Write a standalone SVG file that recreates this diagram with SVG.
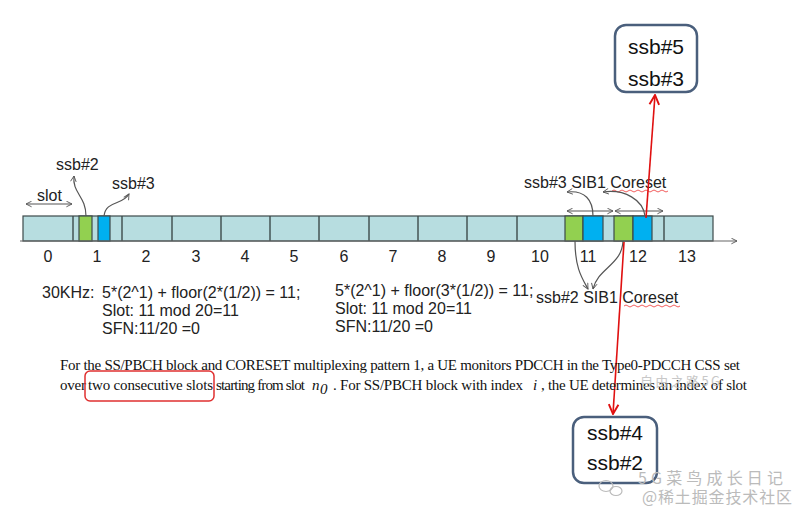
<svg xmlns="http://www.w3.org/2000/svg" width="807" height="520" viewBox="0 0 807 520">
<defs>
<marker id="ah" viewBox="0 0 10 10" refX="9" refY="5" markerWidth="7" markerHeight="7" orient="auto-start-reverse" markerUnits="userSpaceOnUse">
<path d="M1,1 L9,5 L1,9" fill="none" stroke="#555" stroke-width="1.3"/>
</marker>
<marker id="rh" viewBox="0 0 10 10" refX="9" refY="5" markerWidth="12" markerHeight="12" orient="auto" markerUnits="userSpaceOnUse">
<path d="M1,1 L9,5 L1,9" fill="none" stroke="#e01010" stroke-width="1.6"/>
</marker>
<style>
.lbl{font-family:"Liberation Sans",Arial,sans-serif;font-size:16px;fill:#222}
.num{font-family:"Liberation Sans",Arial,sans-serif;font-size:16px;fill:#222;text-anchor:middle}
.par{font-family:"Liberation Serif","Times New Roman",serif;font-size:15px;fill:#111}
.box{fill:#fff;stroke:#4a5f7c;stroke-width:2.5}
.bt{font-family:"Liberation Sans",Arial,sans-serif;font-size:21px;fill:#111;text-anchor:middle}
.cell{fill:#b7dde0;stroke:#3c4a4a;stroke-width:1.2}
.g{fill:#92d050;stroke:#3c4a4a;stroke-width:1.2}
.b{fill:#00b0f0;stroke:#3c4a4a;stroke-width:1.2}
.cur{fill:none;stroke:#555;stroke-width:1.2}
.red{fill:none;stroke:#e01010;stroke-width:1.6}
.wm{font-family:"Noto Sans CJK SC","Liberation Sans",sans-serif;fill:#bbb}
</style>
</defs>

<g id="timeline">
<rect class="cell" x="23" y="216" width="690" height="25"/>
<g stroke="#3c4a4a" stroke-width="1.4">
<line x1="73" y1="216" x2="73" y2="241"/>
<line x1="122" y1="216" x2="122" y2="241"/>
<line x1="172" y1="216" x2="172" y2="241"/>
<line x1="221" y1="216" x2="221" y2="241"/>
<line x1="270" y1="216" x2="270" y2="241"/>
<line x1="319" y1="216" x2="319" y2="241"/>
<line x1="369" y1="216" x2="369" y2="241"/>
<line x1="418" y1="216" x2="418" y2="241"/>
<line x1="467" y1="216" x2="467" y2="241"/>
<line x1="517" y1="216" x2="517" y2="241"/>
<line x1="664" y1="216" x2="664" y2="241"/>
</g>
<rect class="g" x="79" y="216" width="13" height="25"/>
<rect class="b" x="98" y="216" width="12" height="25"/>
<rect class="g" x="565" y="216" width="18" height="25"/>
<rect class="b" x="583" y="216" width="20" height="25"/>
<rect class="g" x="614" y="216" width="19" height="25"/>
<rect class="b" x="633" y="216" width="19" height="25"/>
<line x1="20" y1="241" x2="737" y2="241" stroke="#666" stroke-width="1.2" marker-end="url(#ah)"/>
</g>

<g id="slot-numbers">
<text class="num" x="48" y="262">0</text>
<text class="num" x="97" y="262">1</text>
<text class="num" x="146" y="262">2</text>
<text class="num" x="196" y="262">3</text>
<text class="num" x="245" y="262">4</text>
<text class="num" x="294" y="262">5</text>
<text class="num" x="344" y="262">6</text>
<text class="num" x="393" y="262">7</text>
<text class="num" x="442" y="262">8</text>
<text class="num" x="491" y="262">9</text>
<text class="num" x="540" y="262">10</text>
<text class="num" x="588" y="262">11</text>
<text class="num" x="638" y="262">12</text>
<text class="num" x="687" y="262">13</text>
</g>

<g id="labels">
<text class="lbl" x="56" y="170">ssb#2</text>
<text class="lbl" x="112" y="189">ssb#3</text>
<text class="lbl" x="37" y="201">slot</text>
<text class="lbl" x="524" y="188">ssb#3 SIB1 Coreset</text>
<text class="lbl" x="536" y="303">ssb#2 SIB1 Coreset</text>
<path d="M612,191 q2,-2 4,0 t4,0 t4,0 t4,0 t4,0 t4,0 t4,0 t4,0 t4,0 t4,0 t4,0 t4,0 t4,0 t4,0" fill="none" stroke="#e33" stroke-width="0.8"/>
<path d="M624,306 q2,-2 4,0 t4,0 t4,0 t4,0 t4,0 t4,0 t4,0 t4,0 t4,0 t4,0 t4,0 t4,0 t4,0 t4,0" fill="none" stroke="#e33" stroke-width="0.8"/>
</g>

<g id="connectors">
<line class="cur" x1="26" y1="204" x2="72" y2="204" marker-start="url(#ah)" marker-end="url(#ah)"/>
<path class="cur" d="M86,216 C86,196 72,193 74,176" marker-end="url(#ah)"/>
<path class="cur" d="M104,216 C106,200 122,206 129,194" marker-end="url(#ah)"/>
<line class="cur" x1="567" y1="211" x2="613" y2="211" marker-start="url(#ah)" marker-end="url(#ah)"/>
<line class="cur" x1="615" y1="211" x2="663" y2="211" marker-start="url(#ah)" marker-end="url(#ah)"/>
<path class="cur" d="M593,216 C593,200 585,190 567,192" marker-end="url(#ah)"/>
<path class="cur" d="M645,216 C643,200 625,189 603,192" marker-end="url(#ah)"/>
<path class="cur" d="M575,241 C575,268 582,278 588,289" marker-end="url(#ah)"/>
<path class="cur" d="M623,241 C622,265 598,268 593,289" marker-end="url(#ah)"/>
<line class="red" x1="646" y1="218" x2="655" y2="95" marker-end="url(#rh)"/>
<line class="red" x1="624" y1="242" x2="613" y2="414" marker-end="url(#rh)"/>
</g>

<g id="formulas">
<text class="lbl" x="42" y="298">30KHz:</text>
<text class="lbl" x="102" y="298">5*(2^1) + floor(2*(1/2)) = 11;</text>
<text class="lbl" x="102" y="316">Slot: 11 mod 20=11</text>
<text class="lbl" x="102" y="334">SFN:11/20 =0</text>
<text class="lbl" x="335" y="296">5*(2^1) + floor(3*(1/2)) = 11;</text>
<text class="lbl" x="335" y="314">Slot: 11 mod 20=11</text>
<text class="lbl" x="335" y="332">SFN:11/20 =0</text>
</g>

<g id="paragraph">
<text class="par" x="60" y="370" textLength="680" lengthAdjust="spacing">For the SS/PBCH block and CORESET multiplexing pattern 1, a UE monitors PDCCH in the Type0-PDCCH CSS set</text>
<text class="par" x="60" y="390" textLength="26" lengthAdjust="spacing">over</text>
<text class="par" x="88" y="390" textLength="125" lengthAdjust="spacing">two consecutive slots</text>
<text class="par" x="216" y="390" textLength="89" lengthAdjust="spacing">starting from slot</text>
<text class="par" x="312" y="390" font-style="italic" font-size="15">n</text>
<text class="par" x="320" y="394" font-style="italic" font-size="9">0</text>
<text class="par" x="333" y="390" textLength="190" lengthAdjust="spacing">. For SS/PBCH block with index</text>
<text class="par" x="533" y="390" font-style="italic" font-size="15">i</text>
<text class="par" x="541" y="390" textLength="206" lengthAdjust="spacing">, the UE determines an index of slot</text>
<rect x="85" y="371" width="129" height="30" rx="5" fill="none" stroke="#e03030" stroke-width="1.5"/>
<text class="wm" x="640" y="386" font-size="13" fill="#d4d4d4" opacity="0.8" textLength="80" lengthAdjust="spacing">自由之路5G</text>
</g>

<g id="box-top">
<rect class="box" x="615" y="25" width="82" height="67" rx="11"/>
<text class="bt" x="656" y="54">ssb#5</text>
<text class="bt" x="656" y="86">ssb#3</text>
</g>

<g id="box-bottom">
<rect class="box" x="573" y="417" width="84" height="66" rx="11"/>
<text class="bt" x="615" y="440">ssb#4</text>
<text class="bt" x="615" y="470">ssb#2</text>
</g>

<g id="watermark">
<ellipse cx="606" cy="486" rx="7" ry="5.5" fill="none" stroke="#bbb" stroke-width="1.2"/>
<ellipse cx="616" cy="491" rx="6" ry="4.5" fill="none" stroke="#bbb" stroke-width="1.2"/>
<text class="wm" x="638" y="484" font-size="16" textLength="145" lengthAdjust="spacing">5G菜鸟成长日记</text>
<text class="wm" x="642" y="503" font-size="16" textLength="150" lengthAdjust="spacing">@稀土掘金技术社区</text>
</g>
</svg>
